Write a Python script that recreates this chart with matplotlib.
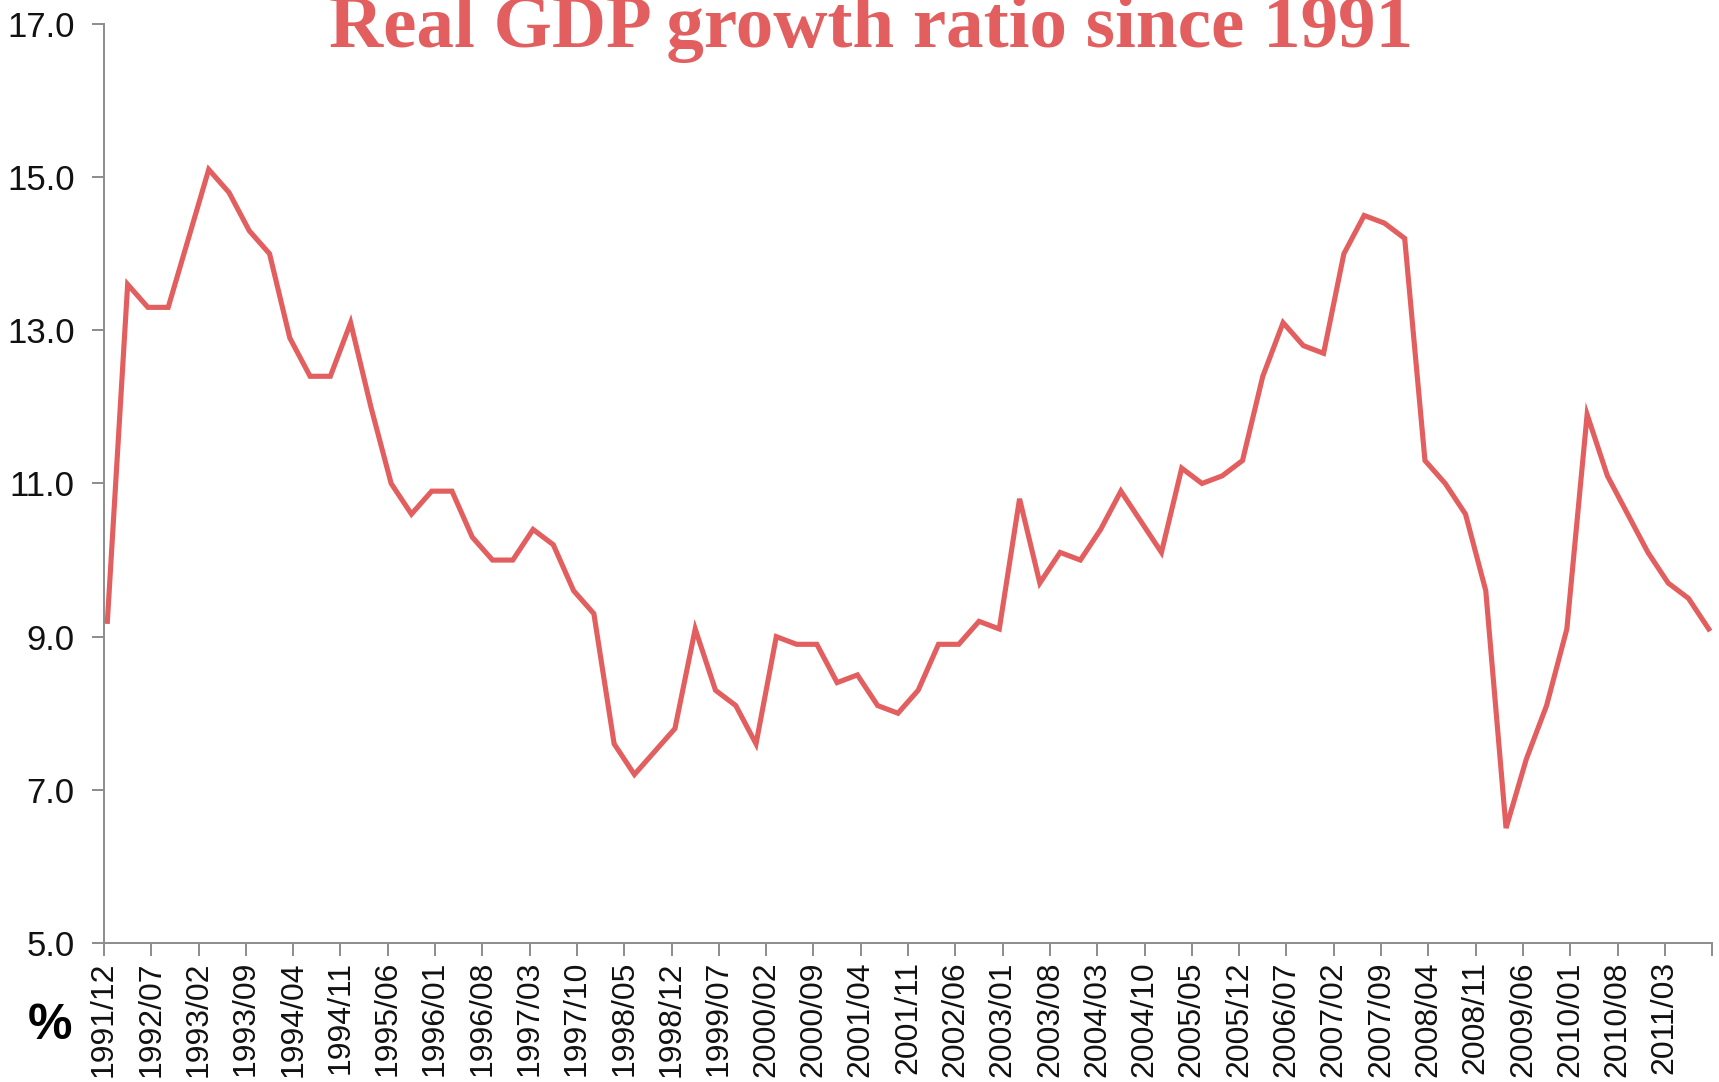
import numpy as np
import matplotlib.pyplot as plt
import matplotlib.ticker as ticker

# Quarterly real GDP growth (%), 1991 Q4 to 2011 Q3
startYear = 1991
startMonth = 12
growth = [9.2, 13.6, 13.3, 13.3, 14.2, 15.1, 14.8, 14.3, 14.0, 12.9,
          12.4, 12.4, 13.1, 12.0, 11.0, 10.6, 10.9, 10.9, 10.3, 10.0,
          10.0, 10.4, 10.2, 9.6, 9.3, 7.6, 7.2, 7.5, 7.8, 9.1,
          8.3, 8.1, 7.6, 9.0, 8.9, 8.9, 8.4, 8.5, 8.1, 8.0,
          8.3, 8.9, 8.9, 9.2, 9.1, 10.8, 9.7, 10.1, 10.0, 10.4,
          10.9, 10.5, 10.1, 11.2, 11.0, 11.1, 11.3, 12.4, 13.1, 12.8,
          12.7, 14.0, 14.5, 14.4, 14.2, 11.3, 11.0, 10.6, 9.6, 6.5,
          7.4, 8.1, 9.1, 11.9, 11.1, 10.6, 10.1, 9.7, 9.5, 9.1]

# months elapsed since 1991/12, one point per quarter (mid-month)
months = np.arange(len(growth)) * 3 + 0.5
tickStep = 7
tickMonths = np.arange(0, 239, tickStep)


def MonthLabel(m, pos=None):
    total = startYear * 12 + (startMonth - 1) + int(round(m))
    if m > 231:
        return ""
    return "%d/%02d" % (total // 12, total % 12 + 1)


lineColour = "#E35F5F"
axisColour = "#8C8C8C"

plt.rcParams['font.family'] = ['Liberation Sans', 'DejaVu Sans']

fig = plt.figure(figsize=(17.19, 10.82), dpi=100)
ax = fig.add_axes([0.0605, 0.1285, 0.9355, 0.8493])

ax.plot(months, growth, color=lineColour, linewidth=3.7, solid_joinstyle='miter')

ax.set_xlim(0, 238)
ax.set_ylim(5.0, 17.0)
ax.set_yticks(np.arange(5.0, 17.1, 2.0))
ax.yaxis.set_major_formatter(ticker.FormatStrFormatter('%.1f'))
ax.set_xticks(tickMonths)
ax.xaxis.set_major_formatter(ticker.FuncFormatter(MonthLabel))

for side in ['top', 'right']:
    ax.spines[side].set_visible(False)
for side in ['left', 'bottom']:
    ax.spines[side].set_color(axisColour)
    ax.spines[side].set_linewidth(1.4)

ax.tick_params(axis='y', direction='out', length=9, width=1.4, color=axisColour,
               labelsize=25, pad=12, labelcolor='#111111')
ax.tick_params(axis='x', direction='out', length=9, width=1.4, color=axisColour,
               labelsize=23, pad=4, labelcolor='#111111', labelrotation=90)
for lbl in ax.get_xticklabels():
    lbl.set_verticalalignment('top')

fig.text(0.507, 0.9566, "Real GDP growth ratio since 1991", color=lineColour,
         fontsize=54, fontweight='bold', family='Liberation Serif',
         ha='center', va='baseline')

fig.text(0.029, 0.052, "%", color='black', fontsize=36, fontweight='bold',
         ha='center', va='center')

plt.savefig("out.png", dpi=100)
